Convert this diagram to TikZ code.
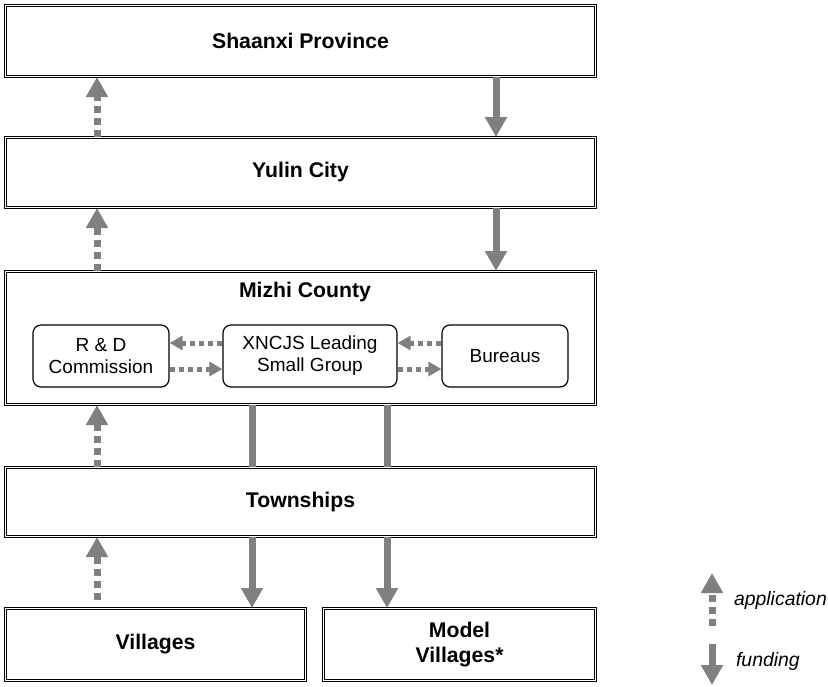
\documentclass[tikz,border=0pt]{standalone}
\usepackage{fontspec}
\setmainfont{Liberation Sans}
\usetikzlibrary{arrows.meta,calc}
\tikzset{
	tier/.style={draw=black, line width=0.5pt, double=white, double distance=0.8pt, inner sep=0pt, align=center, font=\fontsize{10.6}{12.5}\selectfont\bfseries},
	unit/.style={draw=black, line width=0.6pt, rounded corners=4pt, inner sep=0pt, minimum height=31pt, align=center, font=\fontsize{9.5}{11}\selectfont},
	fund/.style={draw=black!50, line width=3.5pt, -{Triangle[length=10pt,width=10.5pt]}},
	appl/.style={draw=black!50, line width=3.5pt, dash pattern=on 3.5pt off 2.5pt, -{Triangle[length=10pt,width=10.5pt]}},
	applh/.style={draw=black!50, line width=2.5pt, dash pattern=on 2.5pt off 2pt, -{Triangle[length=6.5pt,width=7pt]}},
	legtext/.style={anchor=west, font=\fontsize{9.7}{11}\selectfont\itshape}
}

\begin{document}
\begin{tikzpicture}[x=0.5pt, y=-0.5pt]
		%%%%% START %%%%%
		\useasboundingbox (0, 0) rectangle (828, 686);
		
		\coordinate (appx) at (97, 0);
		\coordinate (fundx) at (496, 0);
		\coordinate (lx) at (252, 0);
		\coordinate (rx) at (387, 0);
		\coordinate (hi) at (0, 343);
		\coordinate (lo) at (0, 369);
		
		\node[tier, minimum width=295pt, minimum height=35.5pt] (shaanxi) at (300.5, 41) {Shaanxi Province};
		\node[tier, minimum width=295pt, minimum height=35pt] (yulin) at (300.5, 172.5) {Yulin City};
		\node[tier, minimum width=295pt, minimum height=66.5pt] (mizhi) at (300.5, 338) {};
		\node[font=\fontsize{10.6}{12.5}\selectfont\bfseries] (mizhit) at (305, 292) {Mizhi County};
		\node[tier, minimum width=295pt, minimum height=34.5pt] (town) at (300.5, 502) {Townships};
		\node[tier, minimum width=150pt, minimum height=36pt] (vill) at (155.5, 644.5) {Villages};
		\node[tier, minimum width=136pt, minimum height=36pt] (model) at (459.5, 644.5) {Model\\Villages*};
		
		% units inside the county
		\node[unit, minimum width=68pt] (rd) at (101, 356) {R \& D\\Commission};
		\node[unit, minimum width=87pt] (xncjs) at (310, 356) {XNCJS Leading\\Small Group};
		\node[unit, minimum width=63pt] (bureaus) at (505, 356) {Bureaus};
		
		\draw[applh] (xncjs.west |- hi) -- (rd.east |- hi);
		\draw[applh] (rd.east |- lo) -- (xncjs.west |- lo);
		\draw[applh] (bureaus.west |- hi) -- (xncjs.east |- hi);
		\draw[applh] (xncjs.east |- lo) -- (bureaus.west |- lo);
		
		% application, upwards
		\draw[appl] (yulin.north -| appx) -- (shaanxi.south -| appx);
		\draw[appl] (mizhi.north -| appx) -- (yulin.south -| appx);
		\draw[appl] (town.north -| appx) -- (mizhi.south -| appx);
		\draw[appl, shorten <=4pt] (vill.north -| appx) -- (town.south -| appx);
		
		% funding, downwards
		\draw[fund] (shaanxi.south -| fundx) -- (yulin.north -| fundx);
		\draw[fund] (yulin.south -| fundx) -- (mizhi.north -| fundx);
		\draw[draw=black!50, line width=3.5pt] (mizhi.south -| lx) -- (town.north -| lx);
		\draw[draw=black!50, line width=3.5pt] (mizhi.south -| rx) -- (town.north -| rx);
		\draw[fund] (town.south -| lx) -- (vill.north -| lx);
		\draw[fund] (town.south -| rx) -- (model.north -| rx);
		
		% legend
		\coordinate (appbot) at (712, 626);
		\coordinate (apptop) at (712, 573);
		\coordinate (fundtop) at (712, 644);
		\coordinate (fundbot) at (712, 685);
		\draw[appl] (appbot) -- (apptop);
		\draw[fund] (fundtop) -- (fundbot);
		\node[legtext] (applab) at (727, 600) {application};
		\node[legtext] (fundlab) at (729, 661) {funding};
		
		%%%%% END %%%%%
\end{tikzpicture}
\end{document}
